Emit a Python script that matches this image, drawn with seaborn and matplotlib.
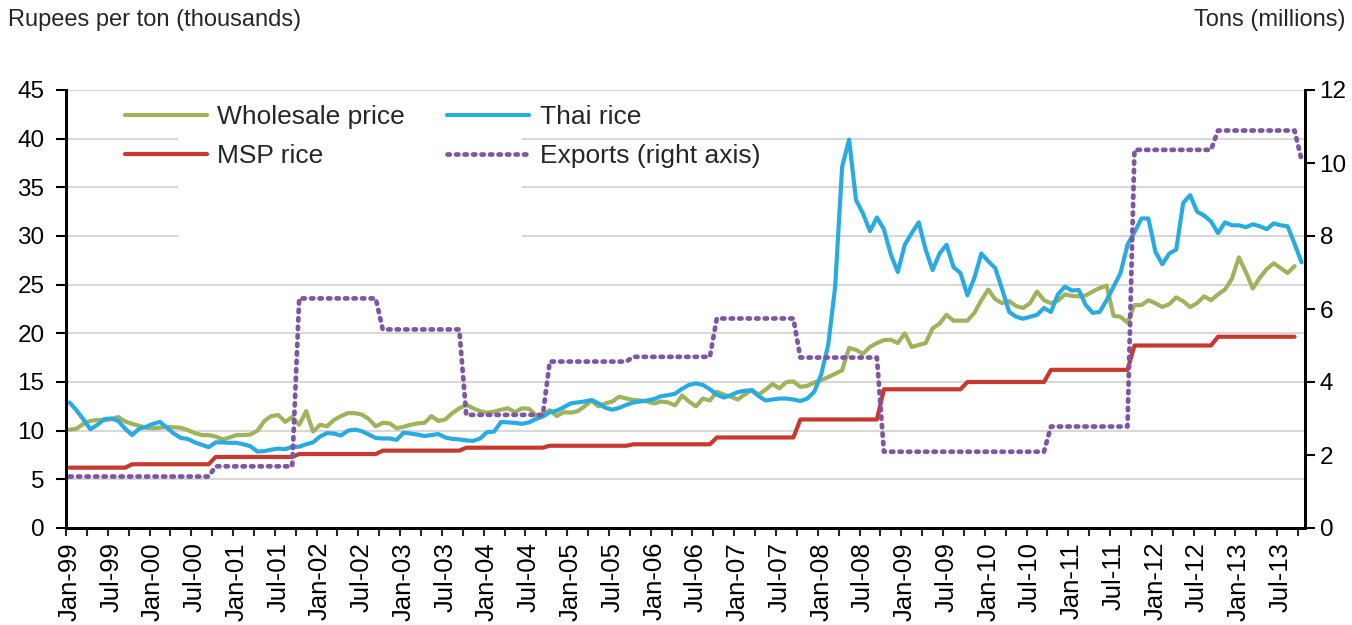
import numpy as np
import pandas as pd
import seaborn as sns
import matplotlib
matplotlib.use("Agg")
import matplotlib.pyplot as plt
from matplotlib.lines import Line2D
from matplotlib.patches import Rectangle

# monthly series starting Jan-99; Thai rice and exports run to Oct-13, the others to Sep-13
wholesale = [
    10.1, 10.2, 10.7, 11.0, 11.1, 11.05, 11.2, 11.4, 10.95, 10.7,
    10.5, 10.3, 10.25, 10.3, 10.4, 10.35, 10.3, 10.05, 9.75, 9.55,
    9.55, 9.4, 9.1, 9.3, 9.55, 9.55, 9.6, 10.0, 11.0, 11.5,
    11.6, 10.9, 11.4, 10.6, 12.0, 9.9, 10.6, 10.45, 11.1, 11.5,
    11.8, 11.8, 11.65, 11.2, 10.45, 10.8, 10.75, 10.25, 10.4, 10.6,
    10.75, 10.8, 11.5, 11.0, 11.15, 11.8, 12.3, 12.65, 12.3, 12.0,
    11.85, 11.95, 12.15, 12.3, 11.9, 12.3, 12.25, 11.6, 11.6, 12.1,
    11.5, 11.9, 11.85, 12.0, 12.5, 13.1, 12.5, 12.8, 13.0, 13.5,
    13.3, 13.15, 13.1, 13.0, 12.8, 13.0, 12.9, 12.6, 13.6, 13.0,
    12.5, 13.3, 13.1, 14.0, 13.7, 13.5, 13.2, 13.7, 14.2, 13.7,
    14.2, 14.8, 14.35, 15.0, 15.05, 14.5, 14.6, 14.95, 15.2, 15.5,
    15.85, 16.2, 18.5, 18.3, 17.9, 18.6, 19.0, 19.3, 19.35, 19.0,
    20.0, 18.6, 18.8, 19.0, 20.5, 21.0, 21.9, 21.3, 21.3, 21.3,
    22.1, 23.4, 24.5, 23.5, 23.1, 23.3, 22.8, 22.6, 23.1, 24.3,
    23.4, 23.1, 23.35, 24.0, 23.85, 23.8, 23.9, 24.3, 24.65, 24.9,
    21.8, 21.7, 21.1, 22.9, 22.9, 23.4, 23.1, 22.7, 23.0, 23.7,
    23.3, 22.7, 23.1, 23.8, 23.4, 24.0, 24.5, 25.6, 27.8, 26.3,
    24.6, 25.7, 26.6, 27.2, 26.7, 26.2, 26.9,
]

thai_rice = [
    12.9, 12.1, 11.15, 10.15, 10.6, 11.2, 11.25, 11.0, 10.2, 9.55,
    10.2, 10.4, 10.7, 10.9, 10.3, 9.7, 9.25, 9.15, 8.8, 8.55,
    8.3, 8.8, 8.8, 8.75, 8.75, 8.6, 8.4, 7.85, 7.9, 8.05,
    8.15, 8.1, 8.35, 8.35, 8.6, 8.8, 9.4, 9.75, 9.7, 9.5,
    10.0, 10.1, 9.95, 9.6, 9.25, 9.2, 9.2, 9.05, 9.8, 9.7,
    9.6, 9.45, 9.55, 9.65, 9.3, 9.15, 9.1, 9.0, 8.95, 9.2,
    9.85, 9.9, 10.9, 10.85, 10.8, 10.7, 10.85, 11.2, 11.45, 11.9,
    12.05, 12.4, 12.8, 12.9, 13.0, 13.15, 12.8, 12.35, 12.15, 12.35,
    12.65, 12.9, 13.0, 13.1, 13.25, 13.55, 13.65, 13.8, 14.3, 14.7,
    14.85, 14.7, 14.25, 13.7, 13.4, 13.65, 13.95, 14.1, 14.15, 13.55,
    13.1, 13.2, 13.3, 13.3, 13.2, 13.05, 13.3, 14.0, 15.8, 18.8,
    24.8, 37.1, 39.9, 33.7, 32.3, 30.5, 31.9, 30.7, 28.1, 26.3,
    29.1, 30.3, 31.4, 28.6, 26.5, 28.2, 29.1, 26.8, 26.2, 23.9,
    25.7, 28.2, 27.4, 26.7, 24.5, 22.2, 21.7, 21.5, 21.7, 21.9,
    22.6, 22.2, 24.0, 24.8, 24.4, 24.45, 22.9, 22.1, 22.2, 23.4,
    24.8, 26.2, 29.1, 30.4, 31.8, 31.8, 28.4, 27.1, 28.2, 28.6,
    33.4, 34.2, 32.5, 32.1, 31.5, 30.3, 31.4, 31.1, 31.1, 30.9,
    31.2, 31.0, 30.7, 31.3, 31.1, 31.0, 29.2, 27.3,
]

# minimum support price, one row per marketing year (Oct-Sep)
msp_rice = [
    6.2, 6.2, 6.2, 6.2, 6.2, 6.2, 6.2, 6.2, 6.2,
    6.55, 6.55, 6.55, 6.55, 6.55, 6.55, 6.55, 6.55, 6.55, 6.55, 6.55, 6.55,
    7.3, 7.3, 7.3, 7.3, 7.3, 7.3, 7.3, 7.3, 7.3, 7.3, 7.3, 7.3,
    7.6, 7.6, 7.6, 7.6, 7.6, 7.6, 7.6, 7.6, 7.6, 7.6, 7.6, 7.6,
    7.95, 7.95, 7.95, 7.95, 7.95, 7.95, 7.95, 7.95, 7.95, 7.95, 7.95, 7.95,
    8.25, 8.25, 8.25, 8.25, 8.25, 8.25, 8.25, 8.25, 8.25, 8.25, 8.25, 8.25,
    8.45, 8.45, 8.45, 8.45, 8.45, 8.45, 8.45, 8.45, 8.45, 8.45, 8.45, 8.45,
    8.6, 8.6, 8.6, 8.6, 8.6, 8.6, 8.6, 8.6, 8.6, 8.6, 8.6, 8.6,
    9.3, 9.3, 9.3, 9.3, 9.3, 9.3, 9.3, 9.3, 9.3, 9.3, 9.3, 9.3,
    11.15, 11.15, 11.15, 11.15, 11.15, 11.15, 11.15, 11.15, 11.15, 11.15, 11.15, 11.15,
    14.25, 14.25, 14.25, 14.25, 14.25, 14.25, 14.25, 14.25, 14.25, 14.25, 14.25, 14.25,
    15.0, 15.0, 15.0, 15.0, 15.0, 15.0, 15.0, 15.0, 15.0, 15.0, 15.0, 15.0,
    16.25, 16.25, 16.25, 16.25, 16.25, 16.25, 16.25, 16.25, 16.25, 16.25, 16.25, 16.25,
    18.75, 18.75, 18.75, 18.75, 18.75, 18.75, 18.75, 18.75, 18.75, 18.75, 18.75, 18.75,
    19.65, 19.65, 19.65, 19.65, 19.65, 19.65, 19.65, 19.65, 19.65, 19.65, 19.65, 19.65,
]

# exports, tons (millions), right axis
exports = [
    1.41, 1.41, 1.41, 1.41, 1.41, 1.41, 1.41, 1.41, 1.41,
    1.41, 1.41, 1.41, 1.41, 1.41, 1.41, 1.41, 1.41, 1.41, 1.41, 1.41, 1.41,
    1.69, 1.69, 1.69, 1.69, 1.69, 1.69, 1.69, 1.69, 1.69, 1.69, 1.69, 1.69,
    6.29, 6.29, 6.29, 6.29, 6.29, 6.29, 6.29, 6.29, 6.29, 6.29, 6.29, 6.29,
    5.44, 5.44, 5.44, 5.44, 5.44, 5.44, 5.44, 5.44, 5.44, 5.44, 5.44, 5.44,
    3.10, 3.10, 3.10, 3.10, 3.10, 3.10, 3.10, 3.10, 3.10, 3.10, 3.10, 3.10,
    4.56, 4.56, 4.56, 4.56, 4.56, 4.56, 4.56, 4.56, 4.56, 4.56, 4.56, 4.56,
    4.69, 4.69, 4.69, 4.69, 4.69, 4.69, 4.69, 4.69, 4.69, 4.69, 4.69, 4.69,
    5.74, 5.74, 5.74, 5.74, 5.74, 5.74, 5.74, 5.74, 5.74, 5.74, 5.74, 5.74,
    4.67, 4.67, 4.67, 4.67, 4.67, 4.67, 4.67, 4.67, 4.67, 4.67, 4.67, 4.67,
    2.09, 2.09, 2.09, 2.09, 2.09, 2.09, 2.09, 2.09, 2.09, 2.09, 2.09, 2.09,
    2.09, 2.09, 2.09, 2.09, 2.09, 2.09, 2.09, 2.09, 2.09, 2.09, 2.09, 2.09,
    2.78, 2.78, 2.78, 2.78, 2.78, 2.78, 2.78, 2.78, 2.78, 2.78, 2.78, 2.78,
    10.36, 10.36, 10.36, 10.36, 10.36, 10.36, 10.36, 10.36, 10.36, 10.36, 10.36, 10.36,
    10.89, 10.89, 10.89, 10.89, 10.89, 10.89, 10.89, 10.89, 10.89, 10.89, 10.89, 10.89,
    10.09,
]

tick_labels = [
    "Jan-99", "Jul-99", "Jan-00", "Jul-00", "Jan-01", "Jul-01", "Jan-02", "Jul-02",
    "Jan-03", "Jul-03", "Jan-04", "Jul-04", "Jan-05", "Jul-05", "Jan-06", "Jul-06",
    "Jan-07", "Jul-07", "Jan-08", "Jul-08", "Jan-09", "Jul-09", "Jan-10", "Jul-10",
    "Jan-11", "Jul-11", "Jan-12", "Jul-12", "Jan-13", "Jul-13",
]
series_names = ["Wholesale price", "Thai rice", "MSP rice", "Exports (right axis)"]

GREEN = "#9EB35C"
BLUE = "#29ABE2"
RED = "#C5392F"
PURPLE = "#7E57A3"
DOTS = (0, (0.5, 1.3))

sns.set_style("white")
plt.rcParams["font.family"] = ["Liberation Sans", "DejaVu Sans"]

fig = plt.figure(figsize=(13.52, 6.25), dpi=100)
ax = fig.add_axes([66 / 1352, 1 - 528 / 625, (1305 - 66) / 1352, 438 / 625])
ax2 = ax.twinx()

def frame(values):
    return pd.DataFrame({"month": np.arange(len(values)), "value": values})

line_kw = dict(lw=3, legend=False, solid_joinstyle="round", solid_capstyle="round")
sns.lineplot(data=frame(wholesale), x="month", y="value", ax=ax, color=GREEN, zorder=3, **line_kw)
sns.lineplot(data=frame(thai_rice), x="month", y="value", ax=ax, color=BLUE, zorder=4, **line_kw)
sns.lineplot(data=frame(msp_rice), x="month", y="value", ax=ax, color=RED, zorder=5, **line_kw)
sns.lineplot(data=frame(exports), x="month", y="value", ax=ax2, color=PURPLE, lw=3.4,
             linestyle=DOTS, dash_capstyle="round", legend=False)

# grid, and the white patch behind the legend that hides part of it
ax.set_axisbelow(True)
ax.yaxis.grid(True, color="#D8D8D8", lw=1.5)
ax.add_patch(Rectangle((0.09, 0.62), 0.278, 0.355, transform=ax.transAxes,
                       facecolor="white", edgecolor="none", zorder=1))

ax.set_xlim(-0.5, 177.5)
ax.set_ylim(0, 45)
ax2.set_ylim(0, 12)
ax.set_yticks(np.arange(0, 46, 5))
ax2.set_yticks(np.arange(0, 13, 2))

ax.set_xticks(np.arange(-0.5, 177, 3))
ax.set_xticklabels([])
ax.set_xticks(np.arange(0, 175, 6), minor=True)
ax.set_xticklabels(tick_labels, minor=True, rotation=90, va="top", ha="center")

ax.set_xlabel("")
ax.set_ylabel("")
ax2.set_ylabel("")

ax.tick_params(axis="y", direction="out", length=7, width=1.5, labelsize=17.5, pad=8.5,
               left=True, colors="black")
ax2.tick_params(axis="y", direction="out", length=7, width=1.5, labelsize=17.5, pad=3.5,
                right=True, colors="black")
ax.tick_params(axis="x", which="major", direction="out", length=6, width=1.5, bottom=True)
ax.tick_params(axis="x", which="minor", length=0, labelsize=18.5, pad=10, colors="black")

for a in (ax, ax2):
    a.spines["top"].set_visible(False)
    for side in ("left", "right", "bottom"):
        a.spines[side].set_color("black")
        a.spines[side].set_linewidth(2)

handles = [
    Line2D([], [], color=GREEN, lw=3, solid_capstyle="round"),
    Line2D([], [], color=RED, lw=3, solid_capstyle="round"),
    Line2D([], [], color=BLUE, lw=3, solid_capstyle="round"),
    Line2D([], [], color=PURPLE, lw=3.4, linestyle=DOTS, dash_capstyle="round"),
]
labels = [series_names[0], series_names[2], series_names[1], series_names[3]]
ax2.legend(handles, labels, ncol=2, frameon=False, fontsize=19,
           loc="upper left", bbox_to_anchor=(125 / 1352, 1 - 105 / 625),
           bbox_transform=fig.transFigure, borderaxespad=0, borderpad=0,
           handlelength=3.1, handletextpad=0.4, columnspacing=1.6, labelspacing=0.56)

fig.text(8 / 1352, 1 - 20 / 625, "Rupees per ton (thousands)", fontsize=17,
         ha="left", va="center")
fig.text(1345 / 1352, 1 - 20 / 625, "Tons (millions)", fontsize=17,
         ha="right", va="center")

fig.savefig("out.png", dpi=100)
